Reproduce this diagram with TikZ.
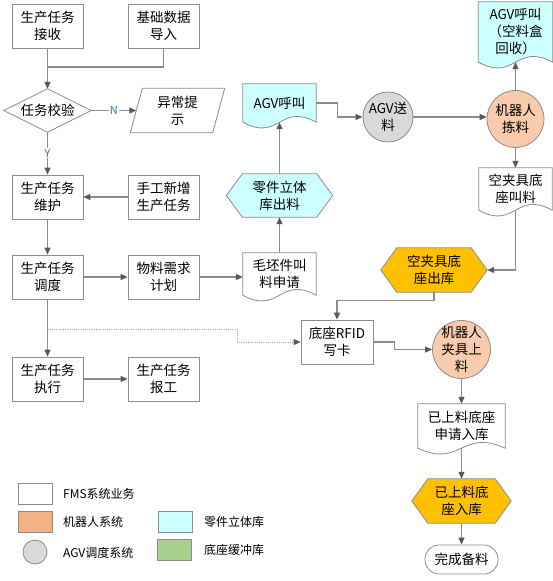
\documentclass[tikz,border=0pt]{standalone}
\usepackage{fontspec}
\newfontfamily\cjkfont{Noto Sans CJK SC}
\usepackage{tikz}
\usetikzlibrary{arrows.meta,backgrounds}
\definecolor{linegray}{HTML}{8C8C8C}
\definecolor{tipgray}{HTML}{595959}
\definecolor{edgegray}{HTML}{8C8C8C}
\definecolor{storecyan}{HTML}{CCFFFF}
\definecolor{hexorange}{HTML}{FFC000}
\definecolor{robotpeach}{HTML}{F8CBAD}
\definecolor{robotorange}{HTML}{F4B183}
\definecolor{agvgray}{HTML}{D9D9D9}
\definecolor{buffergreen}{HTML}{A9D18E}
\definecolor{ynblue}{HTML}{2E75B6}

\begin{document}
\begin{tikzpicture}[x=1pt,y=-1pt,
  every node/.style={font=\cjkfont\fontsize{13.5}{17}\selectfont, align=center, inner sep=0pt},
  proc/.style={draw=edgegray, line width=0.8pt, fill=white, minimum width=71pt, minimum height=44pt},
  outline/.style={draw=edgegray, line width=0.8pt},
  roundnode/.style={circle, draw=edgegray, line width=0.8pt, inner sep=-8pt},
  keybox/.style={draw=edgegray, line width=0.8pt, minimum width=34pt, minimum height=21pt},
  keytext/.style={anchor=west, font=\cjkfont\fontsize{12}{14}\selectfont},
  flow/.style={draw=linegray, line width=1.2pt, -{Triangle[length=7pt,width=6pt,color=tipgray]}},
  link/.style={draw=linegray, line width=1.2pt},
  dotflow/.style={flow, draw=linegray!80, line width=0.9pt, dash pattern=on 1pt off 1.2pt},
  yn/.style={font=\cjkfont\fontsize{11}{12}\selectfont, text=ynblue, fill=white, inner sep=1pt}]
\useasboundingbox (0,0) rectangle (553,581);

\node[proc] (recv) at (47.5,26) {生产任务\\接收};
\node[proc] (basic) at (163.5,26) {基础数据\\导入};
\node[minimum width=87pt, minimum height=43pt] (check) at (47.5,110.5) {任务校验};
\node[minimum width=82pt, minimum height=44pt] (warn) at (177.5,110.5) {异常提\\示};
\node[proc] (maint) at (47.5,197) {生产任务\\维护};
\node[proc] (manual) at (163.5,197) {手工新增\\生产任务};
\node[proc] (sched) at (47.5,277) {生产任务\\调度};
\node[proc] (plan) at (163.5,277) {物料需求\\计划};
\node[proc] (exec) at (47.5,379) {生产任务\\执行};
\node[proc] (report) at (163.5,379) {生产任务\\报工};
\node[proc, minimum width=72pt] (rfid) at (337,342) {底座RFID\\写卡};

\node[minimum width=73pt, minimum height=42pt] (blank) at (279.5,274) {毛坯件叫\\料申请};
\node[minimum width=73pt, minimum height=38pt] (agvcall) at (279.5,103) {AGV呼叫};
\node[minimum width=74pt, minimum height=60pt] (recycle) at (515.5,32) {AGV呼叫\\（空料盒\\回收）};
\node[minimum width=73pt, minimum height=42pt] (emptycall) at (515.5,189) {空夹具底\\座叫料};
\node[minimum width=87pt, minimum height=44pt] (filled) at (461.5,426) {已上料底座\\申请入库};

\node[minimum width=106pt, minimum height=43pt] (partout) at (279.5,195.5) {零件立体\\库出料};
\node[minimum width=106pt, minimum height=44pt] (emptyout) at (434,270) {空夹具底\\座出库};
\node[minimum width=99pt, minimum height=44pt] (filledin) at (461.5,501) {已上料底\\座入库};

\node[roundnode, fill=agvgray, minimum size=50pt] (agvsend) at (388,117) {AGV送\\料};
\node[roundnode, fill=robotpeach, minimum size=57pt] (pick) at (515.5,119) {机器人\\拣料};
\node[roundnode, fill=robotpeach, minimum size=58pt] (load) at (461.5,349.5) {机器人\\夹具上\\料};
\node[draw=edgegray, line width=0.8pt, rounded corners=14pt, minimum width=73pt, minimum height=29pt] (done) at (461.5,559.5) {完成备料};

\node[keybox, fill=white] (keyfms) at (35,493.5) {};
\node[keytext] (keyfmstext) at (63,494) {FMS系统业务};
\node[keybox, fill=robotorange] (keyrobot) at (35,521.5) {};
\node[keytext] (keyrobottext) at (63,521.5) {机器人系统};
\node[circle, draw=edgegray, line width=0.8pt, fill=agvgray, minimum size=24pt] (keyagv) at (35,552) {};
\node[keytext] (keyagvtext) at (63,553) {AGV调度系统};
\node[keybox, fill=storecyan] (keystore) at (175.5,521.5) {};
\node[keytext] (keystoretext) at (204,521.5) {零件立体库};
\node[keybox, fill=buffergreen] (keybuffer) at (174,549.5) {};
\node[keytext] (keybuffertext) at (204,550) {底座缓冲库};

\coordinate (merge) at (47.5,67);
\coordinate (tap) at (47.5,329);
\draw[flow] (recv) -- (check);
\draw[link] (basic.south) |- (merge);
\draw[flow] (check.east) -- node[yn]{N} (warn.west);
\draw[flow] (check.south) -- node[yn]{Y} (maint.north);
\draw[flow] (manual) -- (maint);
\draw[flow] (maint) -- (sched);
\draw[flow] (sched) -- (plan);
\draw[flow] (plan.east) -- (plan.east -| blank.west);
\draw[flow] (sched) -- (exec);
\draw[flow] (exec) -- (report);
\draw[dotflow] (tap) -- ++(189.5,0) |- (rfid.west);
\draw[flow] (blank) -- (partout);
\draw[flow] (partout) -- (agvcall);
\draw[flow] (agvcall.east) -- ++(21,0) |- (agvsend.west);
\draw[flow] (agvsend.east) -- (agvsend.east -| pick.west);
\draw[flow] (pick) -- (recycle);
\draw[flow] (pick) -- (emptycall);
\draw[flow] (emptycall.south) |- (emptyout.east);
\draw[flow] (emptyout.south) -- ++(0,8) -| (rfid.north);
\draw[flow] (rfid.east) -- ++(21,0) |- (load.west);
\draw[flow] (load) -- (filled);
\draw[flow] (filled) -- (filledin);
\draw[flow] (filledin) -- (done);

\begin{pgfonlayer}{background}
\fill[white] (0,0) rectangle (553,581);
\draw[outline] ([xshift=8]basic.north west) -- ([xshift=8]basic.south west);
\draw[outline] ([xshift=-8]basic.north east) -- ([xshift=-8]basic.south east);
\draw[outline, fill=white] (check.west) -- (check.north) -- (check.east) -- (check.south) -- cycle;
\draw[outline, fill=white] ([xshift=-6]warn.south west) -- ([xshift=6]warn.north west) -- ([xshift=6]warn.north east) -- ([xshift=-6]warn.south east) -- cycle;
\foreach \n/\w/\f in {blank/73/white, agvcall/73/storecyan, recycle/74/storecyan, emptycall/73/white, filled/87/white}
  \draw[outline, fill=\f] (\n.south west) -- (\n.north west) -- (\n.north east) -- (\n.south east) .. controls +(-0.5*\w,-20) and +(0.5*\w,20) .. (\n.south west) -- cycle;
\foreach \n/\f in {partout/storecyan, emptyout/hexorange, filledin/hexorange}
  \draw[outline, fill=\f] (\n.west) -- ([xshift=16]\n.north west) -- ([xshift=-16]\n.north east) -- (\n.east) -- ([xshift=-16]\n.south east) -- ([xshift=16]\n.south west) -- cycle;
\end{pgfonlayer}
\end{tikzpicture}
\end{document}
